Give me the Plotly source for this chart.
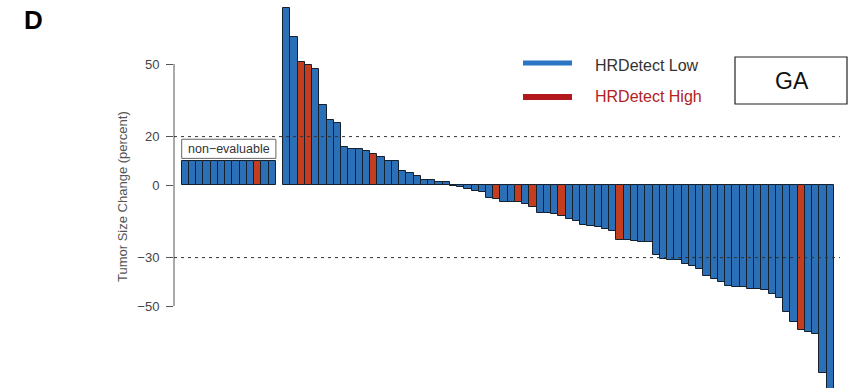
import plotly.graph_objects as go

# ---- data -------------------------------------------------------------
# Non-evaluable patients (drawn at a fixed placeholder height)
nonevaluable_values = [10] * 13
nonevaluable_groups = ["Low"] * 10 + ["High"] + ["Low"] * 2

# Best change in tumor size (percent), sorted waterfall order
tumor_change = [
    73, 61, 51, 49.5, 48, 33, 27, 25.5, 15.5, 15,
    15, 14.2, 13, 11.7, 10, 10, 5.7, 5.1, 3.9, 2.1,
    2.1, 1.4, 1.4, -0.3, -0.7, -1.8, -2.3, -2.8, -5.2, -5.8,
    -6.9, -6.9, -6.9, -8.0, -9.2, -11.4, -11.7, -12.0, -12.8, -14.2,
    -14.9, -16.5, -16.8, -17.2, -18.3, -18.9, -22.7, -22.8, -23.1, -23.6,
    -23.6, -28.9, -30.4, -31.0, -31.0, -32.6, -33.5, -34.6, -37.5, -38.8,
    -40.2, -41.6, -42.0, -42.3, -43.0, -43.0, -43.4, -45.2, -46.8, -52.6,
    -56.5, -59.9, -60.6, -61.7, -77.8, -90,
]
hrdetect_group = ["Low"] * 76
for i in (3, 4, 13, 30, 33, 35, 39, 47, 72):
    hrdetect_group[i - 1] = "High"

y_ticks = [50, 20, 0, -30, -50]
y_tick_labels = ["50", "20", "0", "\u221230", "\u221250"]
reference_lines = [20, -30]

# ---- styling ----------------------------------------------------------
BLUE = "#2b70b6"
RED = "#c43d1f"
EDGE = "#14202e"
FONT = "Liberation Sans, Arial, sans-serif"
W, H = 861, 388
L_PX, R_PX = 174, 840
colour_of = {"Low": BLUE, "High": RED}

# slot positions: non-evaluable block, one empty slot, then the waterfall
n_ne = len(nonevaluable_values)
x_ne = list(range(n_ne))
x_main = [n_ne + 1 + i for i in range(len(tumor_change))]

px_per_unit = 7.245
x0 = -0.5 - (181.7 - L_PX) / px_per_unit
x1 = x0 + (R_PX - L_PX) / px_per_unit

y_scale = 2.42
y_top = 185 / y_scale
y_bot = -(H - 185) / y_scale


def px(xp):
    return (xp - L_PX) / (R_PX - L_PX)


def py(yp):
    return (H - yp) / H


fig = go.Figure()
fig.add_trace(go.Bar(
    x=x_ne, y=nonevaluable_values, width=1,
    marker=dict(color=[colour_of[g] for g in nonevaluable_groups],
                line=dict(color=EDGE, width=1)),
    showlegend=False,
))
fig.add_trace(go.Bar(
    x=x_main, y=tumor_change, width=1,
    marker=dict(color=[colour_of[g] for g in hrdetect_group],
                line=dict(color=EDGE, width=1)),
    showlegend=False,
))

shapes = []
# y axis line spanning the tick range
shapes.append(dict(type="line", xref="paper", yref="y", x0=0, x1=0,
                   y0=max(y_ticks), y1=min(y_ticks),
                   line=dict(color="#555", width=1)))
# dashed response thresholds
for v in reference_lines:
    shapes.append(dict(type="line", xref="paper", yref="y", x0=0, x1=1,
                       y0=v, y1=v, layer="above",
                       line=dict(color="#333", width=1, dash="3px,4px")))
# label box over the non-evaluable block
shapes.append(dict(type="rect", xref="x", yref="y", x0=-0.5, x1=n_ne - 0.5,
                   y0=11.0, y1=18.9, fillcolor="white",
                   line=dict(color="#666", width=1)))
# legend swatches
shapes.append(dict(type="line", xref="paper", yref="paper",
                   x0=px(523), x1=px(572), y0=py(63), y1=py(63),
                   line=dict(color="#2a75c4", width=5)))
shapes.append(dict(type="line", xref="paper", yref="paper",
                   x0=px(523), x1=px(572), y0=py(97), y1=py(97),
                   line=dict(color="#b3191c", width=6)))
# GA box
shapes.append(dict(type="rect", xref="paper", yref="paper",
                   x0=px(735), x1=px(847), y0=py(57), y1=py(104),
                   line=dict(color="#222", width=1.2)))


def note(text, x, y, size, color, xanchor="center", angle=0, xref="paper", yref="paper"):
    return dict(text=text, x=x, y=y, xref=xref, yref=yref, xanchor=xanchor,
                yanchor="middle", textangle=angle, showarrow=False,
                font=dict(family=FONT, size=size, color=color))


annotations = [
    note("non\u2212evaluable", (n_ne - 1) / 2, 14.9, 12.5, "#333", xref="x", yref="y"),
    note("Tumor Size Change (percent)", px(122), py(197), 13, "#555", angle=-90),
    note("<b>D</b>", px(33), py(20), 26, "#000"),
    note("HRDetect Low", px(593), py(66), 16, "#333", xanchor="left"),
    note("HRDetect High", px(593), py(96), 16, "#b22222", xanchor="left"),
    note("GA", px(792), py(81), 23, "#111"),
]

fig.update_layout(
    width=W, height=H,
    margin=dict(l=L_PX, r=W - R_PX, t=0, b=0, pad=0),
    paper_bgcolor="white", plot_bgcolor="white",
    bargap=0, barmode="overlay",
    shapes=shapes, annotations=annotations,
    showlegend=False,
    xaxis=dict(range=[x0, x1], visible=False, showgrid=False, zeroline=False),
    yaxis=dict(range=[y_bot, y_top], tickvals=y_ticks, ticktext=y_tick_labels,
               ticks="outside", ticklen=7, tickcolor="#555", tickwidth=1,
               ticklabelstandoff=4,
               showgrid=False, zeroline=False, showline=False,
               tickfont=dict(family=FONT, size=13, color="#444")),
)

fig.write_html("out.html")
